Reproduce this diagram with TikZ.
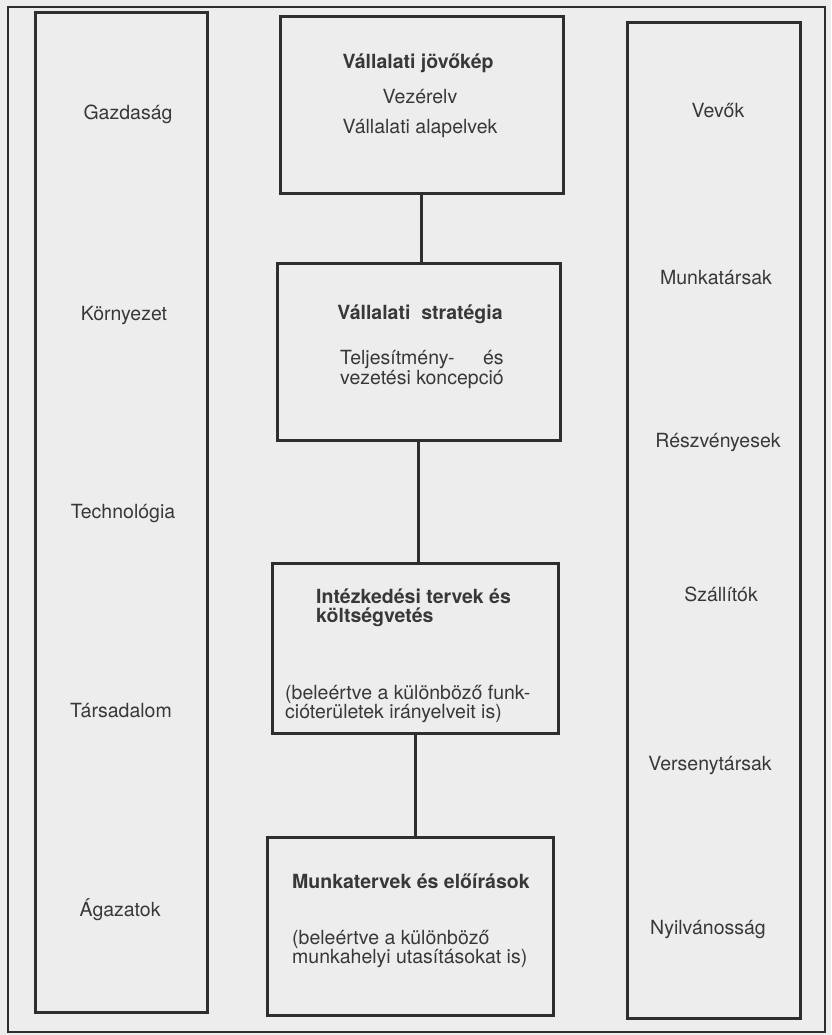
\documentclass[tikz,border=0pt]{standalone}
\usepackage{fontspec}
\setmainfont{TeX Gyre Heros}
\definecolor{ink}{HTML}{2E2E2E}
\definecolor{txt}{HTML}{383838}
\definecolor{paper}{HTML}{EDEDED}
\newsavebox\kbox
\begin{document}
\begin{tikzpicture}[x=1pt,y=-1pt,
  box/.style={draw=ink, line width=3pt, rectangle, inner sep=0pt},
  frame/.style={draw=ink, line width=1.5pt},
  link/.style={draw=ink, line width=3pt},
  lbl/.style={text=txt, font=\fontsize{19.5}{20}\selectfont, inner sep=0pt},
  blbl/.style={lbl, font=\fontsize{19.5}{20}\selectfont\bfseries}]
\fill[paper] (0,0) rectangle (831,1035);
\useasboundingbox (0,0) rectangle (831,1035);
\draw[frame] (8,7) rectangle (825,1032);
% side columns
\node[box, minimum width=172, minimum height=999] (left) at (121,512.5) {};
\node[box, minimum width=173, minimum height=995] (right) at (713.5,520.5) {};
% centre boxes
\node[box, minimum width=283, minimum height=176] (b1) at (421.5,105) {};
\node[box, minimum width=283, minimum height=177] (b2) at (418.5,351.5) {};
\node[box, minimum width=286, minimum height=170] (b3) at (415,648) {};
\node[box, minimum width=286, minimum height=178] (b4) at (410,926) {};
% connectors
\draw[link] (b1.south) -- (b1.south |- b2.north);
\draw[link] (b2.south) -- (b2.south |- b3.north);
\draw[link] (b3.south) -- (b3.south |- b4.north);
% left labels
\node[lbl, anchor=base] (l1) at (128,120) {Gazdaság};
\node[lbl, anchor=base] (l2) at (124,320) {Környezet};
\node[lbl, anchor=base] (l3) at (123,518) {Technológia};
\node[lbl, anchor=base] (l4) at (121,717) {Társadalom};
\node[lbl, anchor=base] (l5) at (120,916) {Ágazatok};
% right labels
\node[lbl, anchor=base] (r1) at (718,118) {Vevők};
\node[lbl, anchor=base] (r2) at (716,284) {Munkatársak};
\node[lbl, anchor=base] (r3) at (718,447) {Részvényesek};
\node[lbl, anchor=base] (r4) at (721,601) {Szállítók};
\node[lbl, anchor=base] (r5) at (710,770) {Versenytársak};
\node[lbl, anchor=base] (r6) at (708,934) {Nyilvánosság};
% box 1
\node[blbl, anchor=base] (t1a) at (418,69) {Vállalati jövőkép};
\node[lbl, anchor=base] (t1b) at (420,104) {Vezérelv};
\node[lbl, anchor=base] (t1c) at (420,134) {Vállalati alapelvek};
% box 2
\node[blbl, anchor=base] (t2a) at (420,319) {Vállalati\ \ stratégia};
\node[lbl, anchor=base west] (t2b) at (340,364) {\sbox\kbox{vezetési koncepció}\makebox[\wd\kbox][s]{Teljesítmény- és}};
\node[lbl, anchor=base west] (t2c) at (340,384) {vezetési koncepció};
% box 3
\node[blbl, anchor=base west] (t3a) at (316,603) {Intézkedési tervek és};
\node[blbl, anchor=base west] (t3b) at (316,622) {költségvetés};
\node[lbl, anchor=base west] (t3c) at (285,699) {(beleértve a különböző funk-};
\node[lbl, anchor=base west] (t3d) at (285,718) {cióterületek irányelveit is)};
% box 4
\node[blbl, anchor=base west] (t4a) at (292,888) {Munkatervek és előírások};
\node[lbl, anchor=base west] (t4b) at (292,944) {(beleértve a különböző};
\node[lbl, anchor=base west] (t4c) at (292,963) {munkahelyi utasításokat is)};
\end{tikzpicture}
\end{document}
